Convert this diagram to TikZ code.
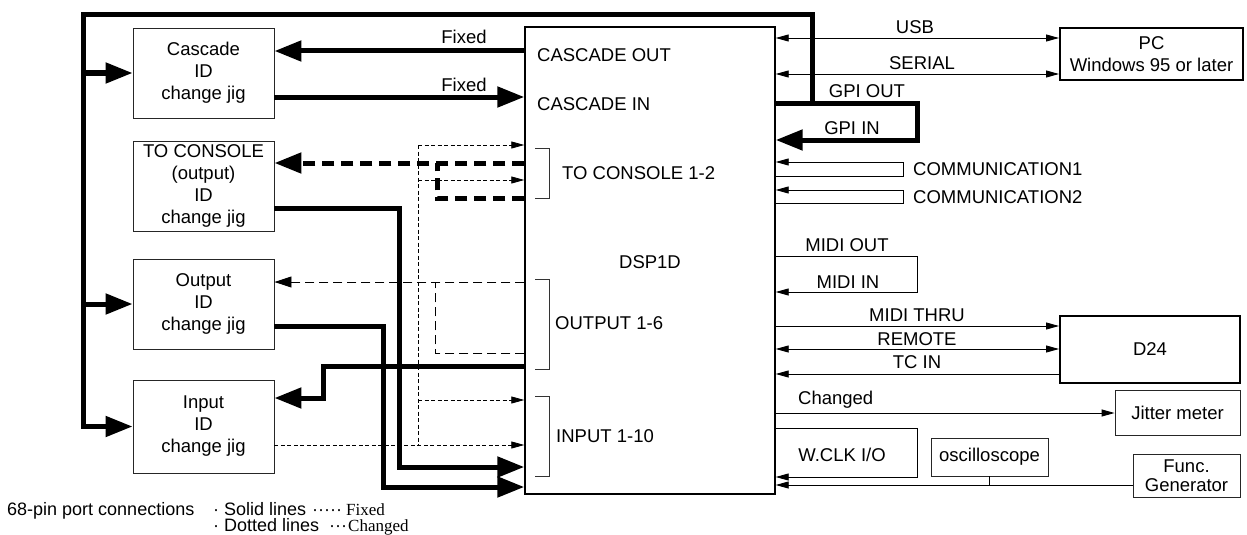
\documentclass[tikz,border=0pt]{standalone}
\usepackage{fontspec}
\setmainfont{Liberation Sans}
\newfontfamily\serifft{Liberation Serif}
\usetikzlibrary{arrows.meta}
\begin{document}
\begin{tikzpicture}[x=1pt,y=-1pt,
  every node/.style={font=\fontsize{18.5}{22}\selectfont, inner sep=0pt},
  box/.style={draw=black!85, line width=0.9pt, align=center, minimum width=141pt},
  heavybox/.style={draw, line width=2pt, align=center},
  lightbox/.style={draw=black!85, line width=0.9pt, align=center},
  thickln/.style={line width=5pt, line join=miter},
  thinln/.style={line width=0.9pt},
  bigtip/.style={-{Triangle[length=27pt,width=20pt]}},
  midtip/.style={-{Triangle[length=17pt,width=11pt]}},
  smalltip/.style={-{Triangle[length=13pt,width=7pt]}},
  dsmalltip/.style={{Triangle[length=13pt,width=7pt]}-{Triangle[length=13pt,width=7pt]}},
  thickdash/.style={line width=5pt, dash pattern=on 12pt off 7pt},
  meddash/.style={line width=0.9pt, dash pattern=on 9pt off 5pt},
  finedash/.style={line width=0.8pt, dash pattern=on 4pt off 2.5pt},
  brk/.style={line width=0.9pt, draw=black!80},
  lbl/.style={anchor=base},
  lblw/.style={anchor=west}
]
\useasboundingbox (0,0) rectangle (1247,535);

% main boxes
\node[box, minimum height=90pt] (casc) at (203.5,73) {Cascade\\ID\\change jig};
\node[box, minimum height=90pt] (tocon) at (203.5,186) {TO CONSOLE\\(output)\\ID\\change jig};
\node[box, minimum height=90pt] (outj) at (203.5,304) {Output\\ID\\change jig};
\node[box, minimum height=93pt] (inj) at (203.5,426.5) {Input\\ID\\change jig};
\node[draw, line width=1.4pt, minimum width=250pt, minimum height=467pt] (dsp) at (650,260.5) {};
\node (dsplbl) at (650,262) {DSP1D};

\node[heavybox, minimum width=183pt, minimum height=52pt] (pc) at (1151.5,54) {PC\\Windows 95 or later};
\node[heavybox, minimum width=180pt, minimum height=67pt] (d24) at (1150,349.5) {D24};
\node[lightbox, minimum width=125pt, minimum height=45pt] (jit) at (1177.5,412.5) {Jitter meter};
\node[lightbox, minimum width=117pt, minimum height=38pt] (osc) at (989.5,457) {oscilloscope};
\node[lightbox, minimum width=107pt, minimum height=43pt, font=\fontsize{18.5}{19}\selectfont] (fg) at (1186.5,475.5) {Func.\\Generator};

% labels inside DSP
\node[lblw] (lco) at (537,55) {CASCADE OUT};
\node[lblw] (lci) at (537,104) {CASCADE IN};
\node[lblw] (ltc) at (562,173) {TO CONSOLE 1-2};
\node[lblw] (lout) at (555,323) {OUTPUT 1-6};
\node[lblw] (lin) at (556,436) {INPUT 1-10};

% brackets
\draw[brk] (535,148) -- (549,148) -- (549,198) -- (535,198);
\draw[brk] (535,279) -- (549,279) -- (549,369) -- (535,369);
\draw[brk] (535,396) -- (549,396) -- (549,476) -- (535,476);

% port coordinates on DSP left
\coordinate (pco) at (dsp.west |- 0,51);
\coordinate (pci) at (dsp.west |- 0,97);
\coordinate (ptc1) at (dsp.west |- 0,163);
\coordinate (ptc2) at (dsp.west |- 0,198);
\coordinate (pf1) at (dsp.west |- 0,145);
\coordinate (pf2) at (dsp.west |- 0,180);
\coordinate (po1) at (dsp.west |- 0,282);
\coordinate (po2) at (dsp.west |- 0,353);
\coordinate (pin) at (dsp.west |- 0,366);
\coordinate (pf3) at (dsp.west |- 0,400);
\coordinate (pf4) at (dsp.west |- 0,445);
\coordinate (pt1) at (dsp.west |- 0,467);
\coordinate (pt2) at (dsp.west |- 0,487);

% Fixed cascade connections
\draw[thickln, bigtip] (pco) -- (casc.east |- pco);
\draw[thickln, bigtip] (casc.east |- pci) -- (pci);
\node[lbl] (fx1) at (464,44) {Fixed};
\node[lbl] (fx2) at (464,91) {Fixed};

% outer GPI loop
\coordinate (gpo) at (dsp.east |- 0,103);
\coordinate (gpi) at (dsp.east |- 0,140);
\draw[thickln, bigtip] (gpo) -- (917,103) -- (917,140) -- (gpi);
\draw[thickln, bigtip] (812,103) -- (812,15) -- (83,15) -- (83,426.5) -- (inj.west);
\draw[thickln, bigtip] (83,73) -- (casc.west);
\draw[thickln, bigtip] (83,304) -- (outj.west);
\node[lbl] (lgo) at (867,97) {GPI OUT};
\node[lbl] (lgi) at (852,134) {GPI IN};

% TO CONSOLE thick dashed
\draw[thickdash, bigtip] (ptc1) -- (tocon.east |- ptc1);
\draw[thickdash] (ptc2) -- (437,198) -- (437,163);

% fine dashed (input)
\draw[finedash, smalltip] (418,145) -- (pf1);
\draw[finedash, smalltip] (418,180) -- (pf2);
\draw[finedash, smalltip] (418,400) -- (pf3);
\draw[finedash, smalltip] (inj.east |- pf4) -- (pf4);
\draw[finedash] (418,145) -- (418,445);

% Output medium dashed
\draw[meddash, midtip] (po1) -- (outj.east |- po1);
\draw[meddash] (po2) -- (435,353) -- (435,282);

% thick solid to inputs
\draw[thickln, bigtip] (tocon.east |- 0,208) -- (399,208) -- (399,467) -- (pt1);
\draw[thickln, bigtip] (outj.east |- 0,326) -- (383,326) -- (383,487) -- (pt2);
\draw[thickln, bigtip] (pin) -- (323,366) -- (323,398) -- (inj.east |- 0,398);

% right side
\draw[thinln, dsmalltip] (dsp.east |- 0,38) -- (pc.west |- 0,38);
\draw[thinln, dsmalltip] (dsp.east |- 0,74) -- (pc.west |- 0,74);
\node[lbl] (lusb) at (915,34) {USB};
\node[lbl] (lser) at (922,70) {SERIAL};

\draw[thinln, smalltip] (dsp.east |- 0,176) -- (903,176) -- (903,162) -- (dsp.east |- 0,162);
\draw[thinln, smalltip] (dsp.east |- 0,203) -- (903,203) -- (903,190) -- (dsp.east |- 0,190);
\node[lblw] (lc1) at (913,169) {COMMUNICATION1};
\node[lblw] (lc2) at (913,197) {COMMUNICATION2};

\draw[thinln, smalltip] (dsp.east |- 0,256) -- (917,256) -- (917,292) -- (dsp.east |- 0,292);
\node[lbl] (lmo) at (847,251) {MIDI OUT};
\node[lbl] (lmi) at (848,288) {MIDI IN};

\draw[thinln, smalltip] (dsp.east |- 0,326) -- (d24.west |- 0,326);
\draw[thinln, dsmalltip] (dsp.east |- 0,349) -- (d24.west |- 0,349);
\draw[thinln, smalltip] (d24.west |- 0,374) -- (dsp.east |- 0,374);
\node[lbl] (lmt) at (917,321) {MIDI THRU};
\node[lbl] (lrm) at (917,345) {REMOTE};
\node[lbl] (ltci) at (917,368) {TC IN};

\draw[thinln, smalltip] (dsp.east |- 0,413) -- (jit.west |- 0,413);
\node[lblw] (lchg) at (798,400) {Changed};

\draw[thinln, smalltip] (dsp.east |- 0,428) -- (917,428) -- (917,477) -- (dsp.east |- 0,477);
\node (lwc) at (842,455) {W.CLK I/O};

\draw[thinln, smalltip] (fg.west |- 0,485) -- (dsp.east |- 0,485);
\draw[thinln] (osc.south) -- (osc.south |- 0,485);

% legend
\begin{scope}[every node/.style={font=\fontsize{18}{19}\selectfont, inner sep=0pt, anchor=base west}]
\node (lg1) at (7,515) {68-pin port connections};
\node (lg2) at (213,515) {· Solid lines};
\node (lg3) at (312,515) {·····};
\node[font=\serifft\fontsize{17}{18}\selectfont] (lg4) at (346,515) {Fixed};
\node (lg5) at (213,531) {· Dotted lines};
\node (lg6) at (329,531) {···};
\node[font=\serifft\fontsize{17}{18}\selectfont] (lg7) at (348,531) {Changed};
\end{scope}
\end{tikzpicture}
\end{document}
